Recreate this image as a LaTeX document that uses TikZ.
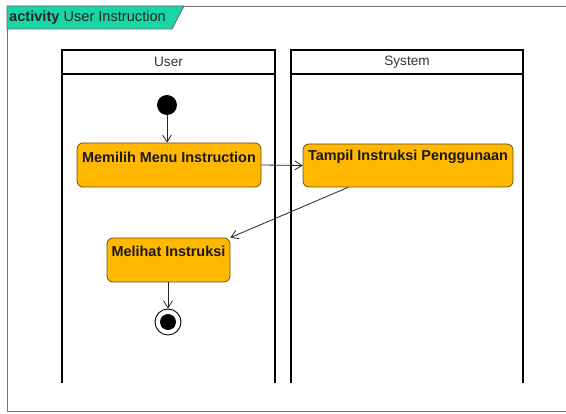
\documentclass[tikz,border=0pt]{standalone}
\usepackage{fontspec}
\setmainfont{Liberation Sans}
\usetikzlibrary{arrows.meta}
\definecolor{tabgreen}{RGB}{26,214,166}
\definecolor{actfill}{RGB}{255,183,0}
\definecolor{actline}{RGB}{110,80,20}
\tikzset{
  x=1pt, y=-1pt,
  frameline/.style={draw=black!55, line width=0.9pt},
  laneline/.style={draw=black, line width=1.2pt},
  action/.style={draw=actline, fill=actfill, rounded corners=6pt, line width=0.8pt, inner sep=0pt},
  acttext/.style={font=\fontsize{14.4}{16}\selectfont\bfseries, text=black!90, inner sep=0pt},
  lanetext/.style={font=\fontsize{13.6}{15}\selectfont, text=black!80},
  flow/.style={draw=black!85, line width=0.8pt, -{Straight Barb[length=7pt,width=9pt,line width=0.8pt]}},
}
\begin{document}
\begin{tikzpicture}
\useasboundingbox (0,0) rectangle (566,414);
\fill[white] (0,0) rectangle (566,414);
% outer activity frame
\draw[frameline] (580,6) -- (7,6) -- (7,411) -- (580,411);
% name tab
\draw[fill=tabgreen, draw=black!60, line width=0.8pt] (7,6) -- (184,6) -- (172,29) -- (7,29) -- cycle;
\node[anchor=west, inner sep=0pt, font=\fontsize{14.6}{16}\selectfont, text=black!85] (title) at (9,17.5) {\textbf{activity} User Instruction};
% swimlanes
\draw[laneline] (62,50) rectangle (275,74);
\draw[laneline] (62,74) -- (62,383);
\draw[laneline] (275,74) -- (275,383);
\node[lanetext] (laneUser) at (168.5,62) {User};
\draw[laneline] (291,50) rectangle (523,74);
\draw[laneline] (291,74) -- (291,383);
\draw[laneline] (523,74) -- (523,383);
\node[lanetext] (laneSystem) at (407,62) {System};
% start and end
\node[circle, fill=black, minimum size=20pt, inner sep=0pt] (start) at (167,105) {};
\node[circle, draw=black, line width=0.9pt, fill=white, minimum size=26pt, inner sep=0pt] (stop) at (168,322) {};
\node[circle, fill=black, minimum size=16pt, inner sep=0pt] at (stop) {};
% actions
\node[action, minimum width=184pt, minimum height=44pt] (pick) at (169,165) {};
\node[acttext] at (169,157) {Memilih Menu Instruction};
\node[action, minimum width=210pt, minimum height=43pt] (show) at (408,165.5) {};
\node[acttext] at (408,157) {Tampil Instruksi Penggunaan};
\node[action, minimum width=123pt, minimum height=44pt] (see) at (168.5,260) {};
\node[acttext] at (168.5,251) {Melihat Instruksi};
% flows
\draw[flow] (start) -- (pick.north -| start);
\draw[flow] (pick.east) -- (show.west);
\draw[flow] (show.south -| 348,0) -- (see.north east);
\draw[flow] (see.south -| stop) -- (stop.north);
\end{tikzpicture}
\end{document}
